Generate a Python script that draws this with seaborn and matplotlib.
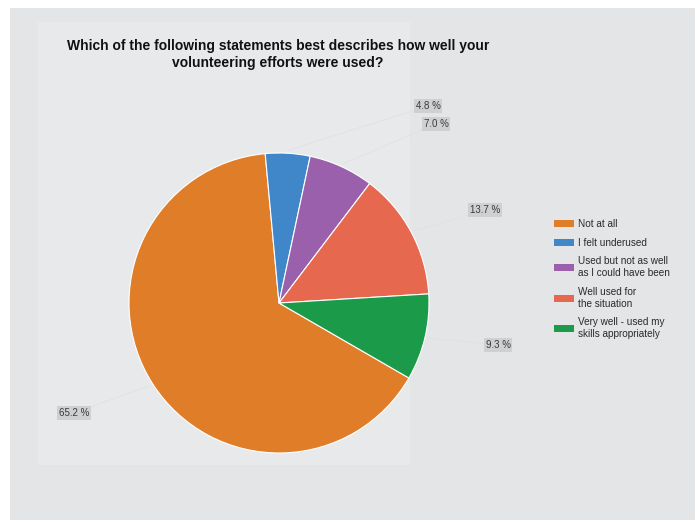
import matplotlib
matplotlib.use("Agg")
import matplotlib.pyplot as plt
from matplotlib.patches import Rectangle
import numpy as np
import seaborn as sns

# Survey responses (percent of respondents)
categories = [
    "Not at all",
    "I felt underused",
    "Used but not as well\nas I could have been",
    "Well used for\nthe situation",
    "Very well - used my\nskills appropriately",
]
shares = [65.2, 4.8, 7.0, 13.7, 9.3]
value_labels = ["65.2 %", "4.8 %", "7.0 %", "13.7 %", "9.3 %"]
slice_colors = ["#e07d28", "#3f87c9", "#9a60ab", "#e6684f", "#1b9a4a"]

title = ("Which of the following statements best describes how well your\n"
         "volunteering efforts were used?")

sns.set_theme(style="white")
plt.rcParams["font.family"] = ["Liberation Sans", "DejaVu Sans"]
palette = sns.color_palette(slice_colors)

W, H = 695, 520
fig = plt.figure(figsize=(W / 100, H / 100), dpi=100, facecolor="white")

# page background: grey panel with a slightly lighter chart area
fig.patches.append(Rectangle((10 / W, 0), 1, 1 - 8 / H, transform=fig.transFigure,
                             facecolor="#e4e5e7", edgecolor="none", zorder=-2))
fig.patches.append(Rectangle((38 / W, 1 - 465 / H), 372 / W, 443 / H,
                             transform=fig.transFigure,
                             facecolor="#e8e9eb", edgecolor="none", zorder=-1))

# pie axes: centre at (279, 303) px, radius 150 px
R = 150
half = 200
ax = fig.add_axes([(279 - half) / W, (H - 303 - half) / H, 2 * half / W, 2 * half / H])
ax.set_zorder(1)
ax.axis("off")
ax.patch.set_visible(False)

wedges, _ = ax.pie(shares, colors=palette, startangle=330, counterclock=False,
                   radius=1.0, wedgeprops=dict(edgecolor="white", linewidth=0.8))
ax.set_xlim(-half / R, half / R)
ax.set_ylim(-half / R, half / R)

# value labels placed around the pie with faint leader lines
label_pos = [(-1.367, -0.733), (0.993, 1.313), (1.047, 1.193), (1.373, 0.62), (1.46, -0.28)]
for w, txt, (lx, ly) in zip(wedges, value_labels, label_pos):
    mid = np.deg2rad((w.theta1 + w.theta2) / 2)
    ex, ey = np.cos(mid) * 1.02, np.sin(mid) * 1.02
    ax.plot([ex, lx], [ey, ly], color="#e0e1e3", lw=0.6, zorder=1, clip_on=False)
    ax.text(lx, ly, txt, ha="center", va="center", fontsize=7, color="#3a3a3a",
            bbox=dict(boxstyle="square,pad=0.18", facecolor="#cfd0d2", edgecolor="none"),
            zorder=3, clip_on=False)

fig.text(278 / W, 1 - 54.5 / H, title, ha="center", va="center", fontsize=10,
         fontweight="bold", color="#111111", linespacing=1.2)

handles = [Rectangle((0, 0), 1, 1, facecolor=c, edgecolor="none") for c in palette]
leg = fig.legend(handles, categories, loc="upper left",
                 bbox_to_anchor=(554 / W, 1 - 219 / H), frameon=False, fontsize=7.2,
                 handlelength=2.0, handleheight=0.7, handletextpad=0.4,
                 labelspacing=0.85, borderpad=0, borderaxespad=0,
                 labelcolor="#2a2a2a")
for t in leg.get_texts():
    t.set_linespacing(1.25)

fig.savefig("out.png", dpi=100, facecolor=fig.get_facecolor())
